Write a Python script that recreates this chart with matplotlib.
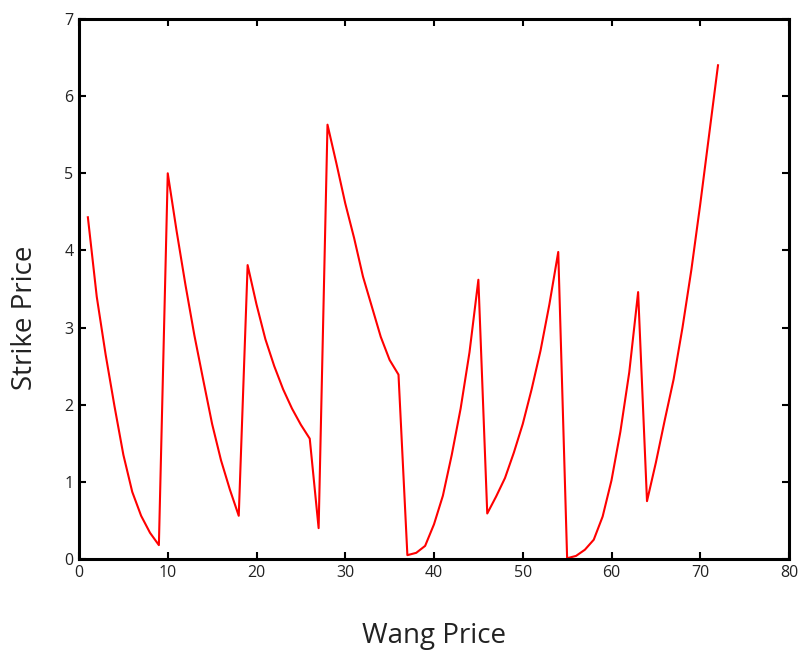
import matplotlib
matplotlib.use("Agg")
import matplotlib.pyplot as plt

wang_price = list(range(1, 73))
strike_price = [
    4.43, 3.40, 2.65, 1.98, 1.35, 0.87, 0.56, 0.34, 0.18,
    5.00, 4.25, 3.55, 2.90, 2.32, 1.75, 1.28, 0.90, 0.56,
    3.81, 3.30, 2.85, 2.50, 2.20, 1.95, 1.74, 1.56, 0.40,
    5.63, 5.13, 4.61, 4.16, 3.66, 3.27, 2.88, 2.58, 2.39,
    0.05, 0.08, 0.17, 0.45, 0.82, 1.35, 1.95, 2.68, 3.62,
    0.59, 0.81, 1.05, 1.38, 1.75, 2.20, 2.70, 3.30, 3.98,
    0.01, 0.04, 0.12, 0.25, 0.55, 1.02, 1.65, 2.42, 3.46,
    0.75, 1.25, 1.80, 2.33, 3.00, 3.75, 4.60, 5.50, 6.40,
]
x_ticks = [0, 10, 20, 30, 40, 50, 60, 70, 80]
y_ticks = [0, 1, 2, 3, 4, 5, 6, 7]

plt.rcParams['font.family'] = ['Open Sans', 'DejaVu Sans']

fig = plt.figure(figsize=(8.05, 6.58), dpi=100)
ax = fig.add_axes([79/805, 1 - 559/658, (789-79)/805, (559-19)/658])
ax.plot(wang_price, strike_price, color='#ff0000', lw=1.5)
ax.set_xlim(0, 80)
ax.set_ylim(0, 7)
ax.set_xticks(x_ticks)
ax.set_yticks(y_ticks)
ax.tick_params(direction='in', length=5, width=1.5, top=True, right=True,
               labelsize=11.5, labelcolor='#222222', pad=4)
for s in ax.spines.values():
    s.set_linewidth(2.2)
ax.set_xlabel('Wang Price', fontsize=20, color='#222222')
ax.set_ylabel('Strike Price', fontsize=20, color='#222222')
ax.xaxis.set_label_coords(0.5, -0.116)
ax.yaxis.set_label_coords(-0.056, 0.446)
fig.savefig('out.png', dpi=100)
